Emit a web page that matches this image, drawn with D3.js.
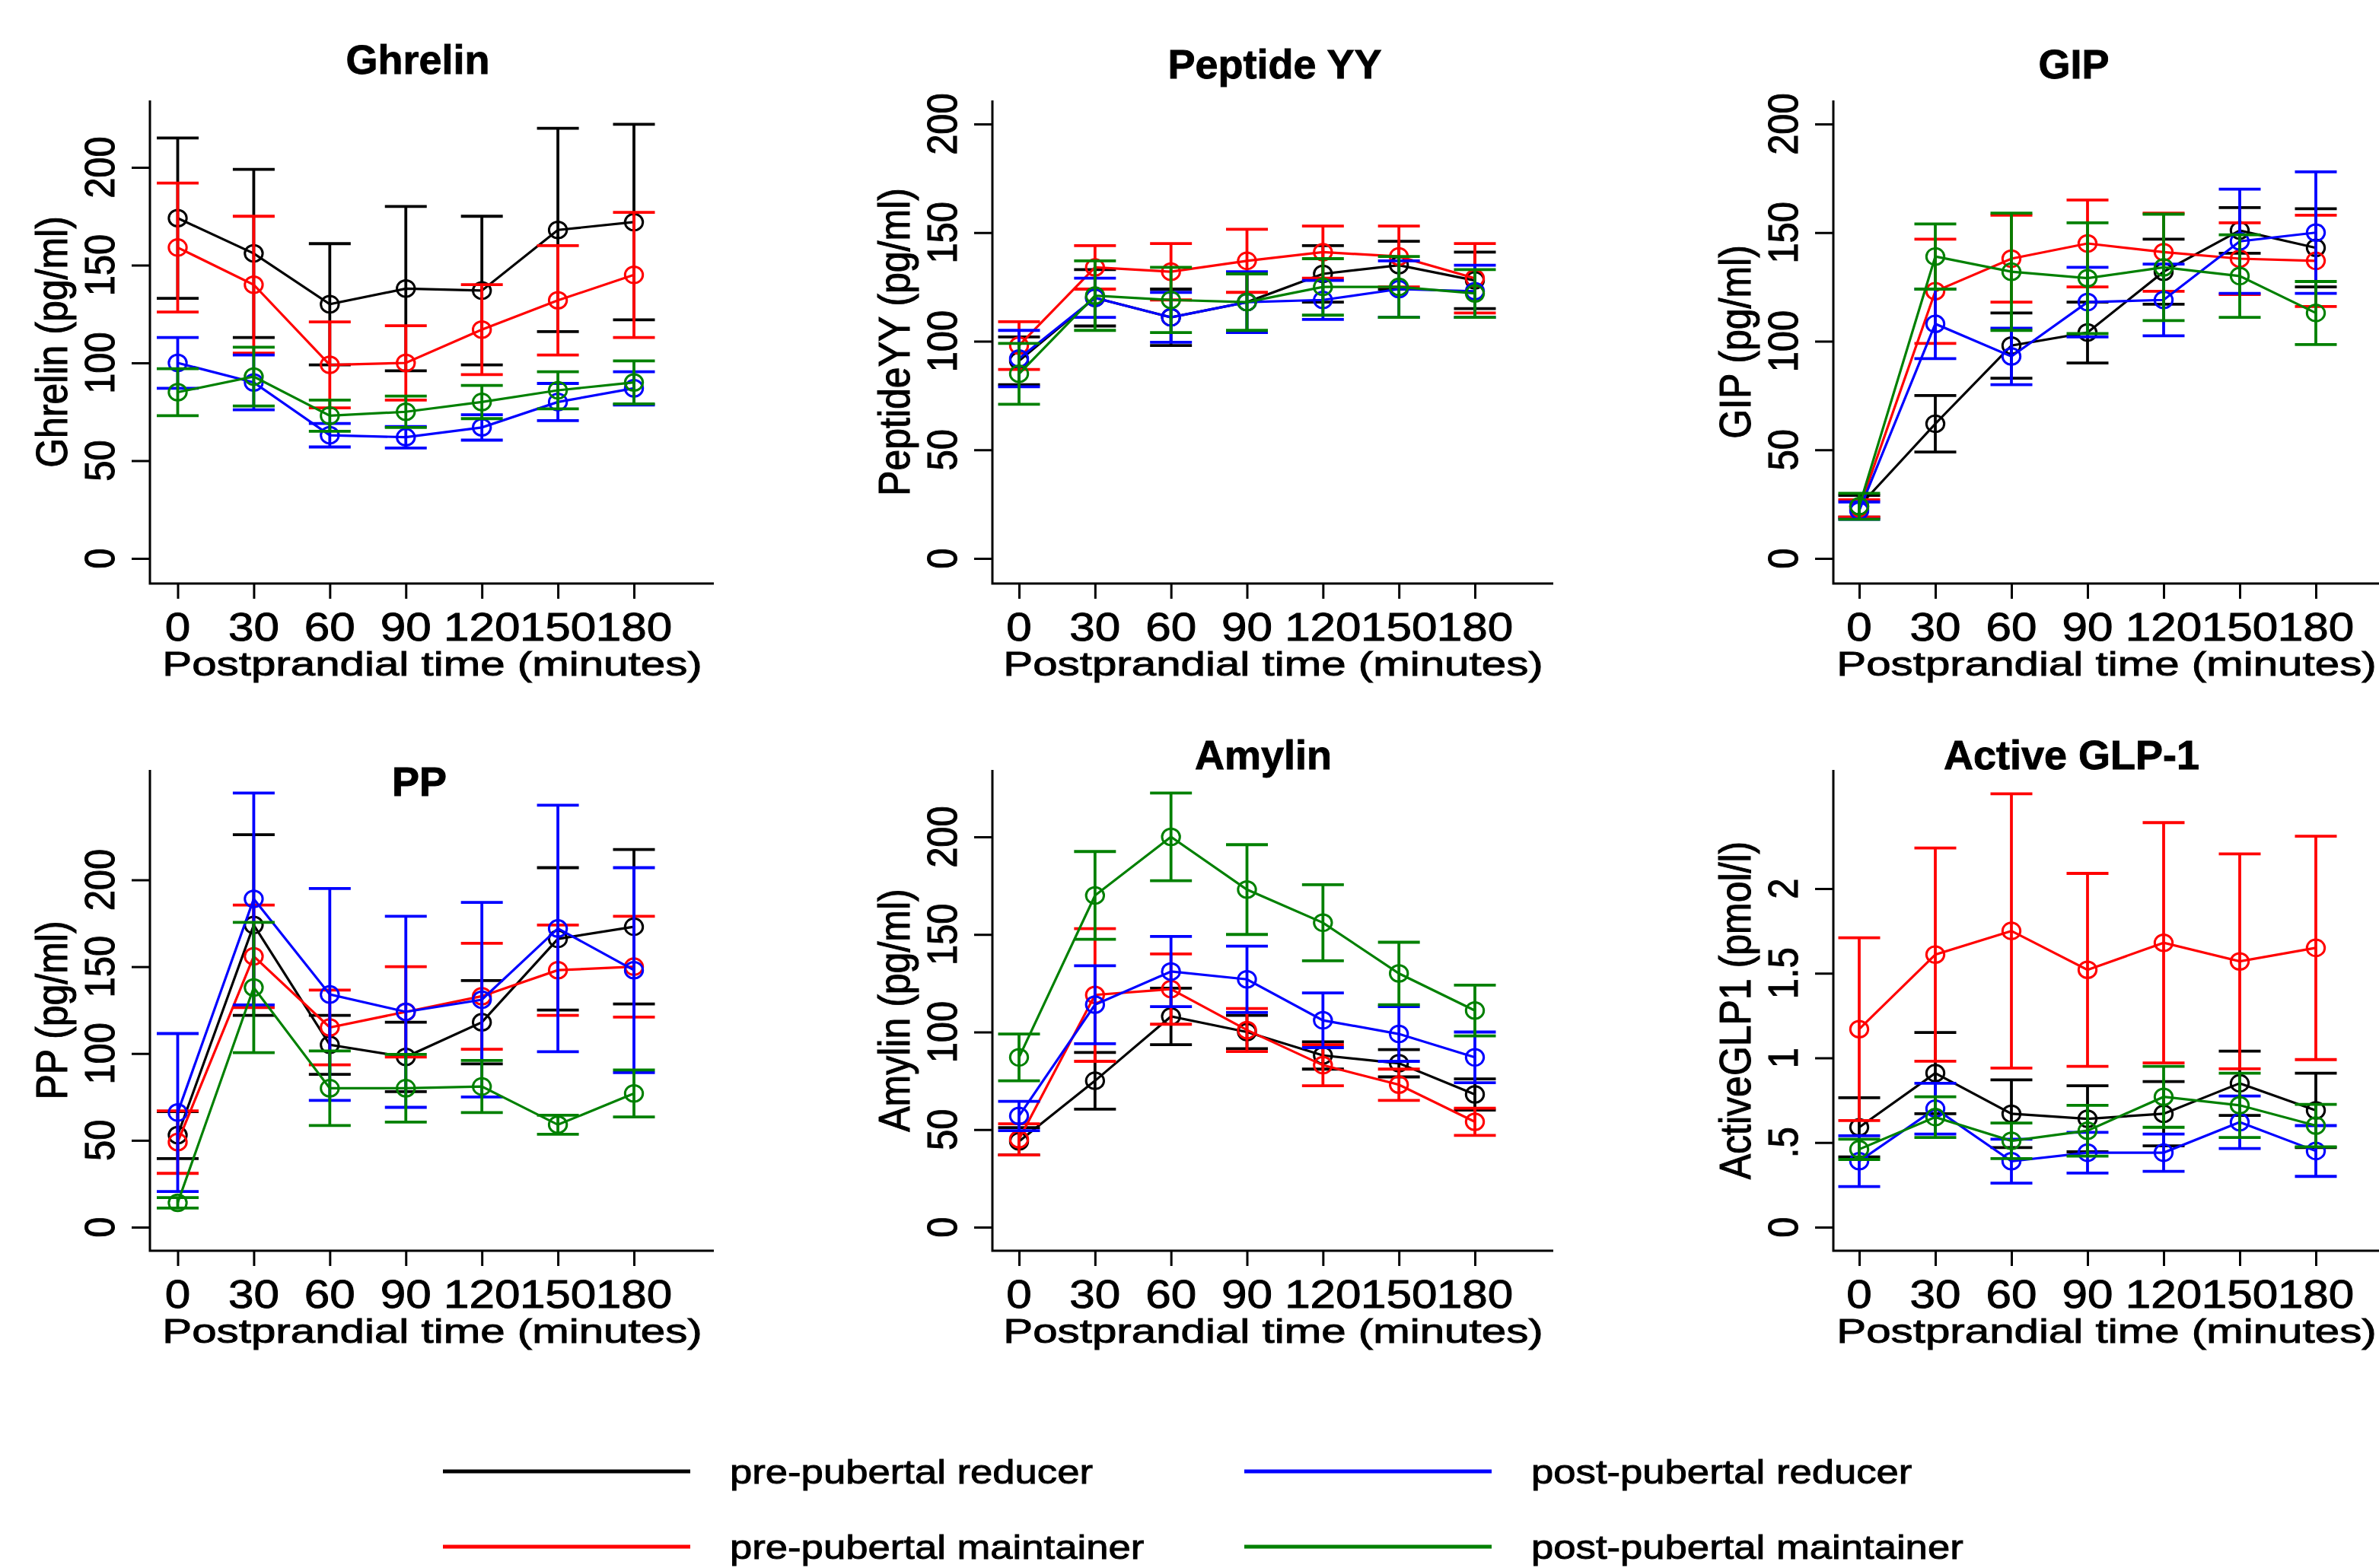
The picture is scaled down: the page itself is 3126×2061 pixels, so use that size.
<!DOCTYPE html>
<html>
<head>
<meta charset="utf-8">
<script src="https://cdn.jsdelivr.net/npm/d3@7"></script>
<style>
  html, body { margin: 0; padding: 0; background: #fff; }
  svg { display: block; }
  text { font-family: "Liberation Sans", Arial, sans-serif; fill: #000; stroke: #000; stroke-width: 0.9; }
</style>
</head>
<body>
<svg id="chart"></svg>
<script>
// sampling times (minutes after the meal)
const times = [0, 30, 60, 90, 120, 150, 180];

// groups, in the order they are drawn
const groups = ['pre-pubertal reducer', 'pre-pubertal maintainer', 'post-pubertal reducer', 'post-pubertal maintainer'];
const groupColors = ['#000000', '#ff0000', '#0000ff', '#008000'];

// Ghrelin (pg/ml) - mean and SE per group
const ghrelinMean = [
  [174, 156, 130, 138, 137, 168, 172],
  [159, 140, 99, 100, 117, 132, 145],
  [100, 90, 63, 62, 67, 80, 87],
  [85, 93, 73, 75, 80, 86, 90]
];
const ghrelinSE = [
  [41, 43, 31, 42, 38, 52, 50],
  [33, 35, 22, 19, 23, 28, 32],
  [13, 14, 6, 5.5, 6.5, 9.5, 8.5],
  [12, 15, 8, 8, 8.5, 9.5, 11]
];

// Peptide YY (pg/ml)
const pyyMean = [
  [91, 120, 111, 118, 131, 135, 128],
  [98, 134, 132, 137, 141, 139, 129],
  [92, 120, 111, 118, 119, 124, 123],
  [85, 121, 119, 118, 125, 125, 122]
];
const pyySE = [
  [11, 13, 13, 13.5, 13, 11, 13],
  [11, 10, 13, 14.5, 12, 14, 16],
  [13, 9, 11.5, 14, 9, 13, 12],
  [14, 16, 15, 13, 13, 14, 11]
];

// GIP (pg/ml)
const gipMean = [
  [24, 62, 98, 104, 132, 151, 143],
  [23, 123, 138, 145, 141, 138, 137],
  [22, 108, 93, 118, 119, 146, 150],
  [24, 139, 132, 129, 134, 130, 113]
];
const gipSE = [
  [5, 13, 15, 14, 15, 10.5, 18],
  [4, 24, 20, 20, 18, 16.5, 21],
  [4, 16, 13, 16, 16.5, 24, 28],
  [6, 15, 27, 25.5, 24.5, 19, 14.5]
];

// PP (pg/ml)
const ppMean = [
  [53, 174, 105, 98, 118, 166, 173],
  [49, 156, 115, 124, 133, 148, 150],
  [66, 189, 134, 124, 131, 172, 148],
  [14, 138, 80, 80, 81, 59, 77]
];
const ppSE = [
  [13.5, 52, 17, 20, 24, 41, 44.5],
  [18, 29.5, 21.5, 26, 30.5, 26, 29],
  [45.5, 61, 61, 55, 56, 71, 59],
  [3, 37.5, 21.5, 19.5, 15, 5.5, 13.5]
];

// Amylin (pg/ml)
const amylinMean = [
  [44, 75, 108, 100, 88, 84, 68],
  [45, 119, 122, 101, 83, 73, 54],
  [57, 114, 131, 127, 106, 99, 87],
  [87, 170, 200, 173, 156, 130, 111]
];
const amylinSE = [
  [7, 14.5, 14.5, 8.5, 7, 7, 8],
  [8, 34, 18, 11, 10.5, 8, 7],
  [7.5, 20, 18, 17, 14, 14, 13],
  [12, 22.5, 22.5, 23, 19.5, 16, 13]
];

// Active GLP-1 (pmol/l)
const glpMean = [
  [0.59, 0.91, 0.67, 0.64, 0.67, 0.85, 0.69],
  [1.17, 1.61, 1.75, 1.52, 1.68, 1.57, 1.65],
  [0.39, 0.70, 0.39, 0.44, 0.44, 0.62, 0.45],
  [0.46, 0.65, 0.51, 0.57, 0.77, 0.72, 0.60]
];
const glpSE = [
  [0.175, 0.24, 0.2, 0.195, 0.19, 0.19, 0.22],
  [0.54, 0.63, 0.81, 0.57, 0.71, 0.635, 0.66],
  [0.15, 0.15, 0.13, 0.12, 0.11, 0.155, 0.15],
  [0.06, 0.12, 0.105, 0.15, 0.18, 0.19, 0.125]
];

// axis ticks
const xTicks = [0, 30, 60, 90, 120, 150, 180];
const pgTicks = [0, 50, 100, 150, 200];
const pgTickLabels = ['0', '50', '100', '150', '200'];
const glpTicks = [0, 0.5, 1, 1.5, 2];
const glpTickLabels = ['0', '.5', '1', '1.5', '2'];

// panel content
const panels = [
  { title: 'Ghrelin', ylab: 'Ghrelin (pg/ml)', mean: ghrelinMean, se: ghrelinSE, ticks: pgTicks, labels: pgTickLabels },
  { title: 'Peptide YY', ylab: 'PeptideYY (pg/ml)', mean: pyyMean, se: pyySE, ticks: pgTicks, labels: pgTickLabels },
  { title: 'GIP', ylab: 'GIP (pg/ml)', mean: gipMean, se: gipSE, ticks: pgTicks, labels: pgTickLabels },
  { title: 'PP', ylab: 'PP (pg/ml)', mean: ppMean, se: ppSE, ticks: pgTicks, labels: pgTickLabels },
  { title: 'Amylin', ylab: 'Amylin (pg/ml)', mean: amylinMean, se: amylinSE, ticks: pgTicks, labels: pgTickLabels },
  { title: 'Active GLP-1', ylab: 'ActiveGLP1 (pmol/l)', mean: glpMean, se: glpSE, ticks: glpTicks, labels: glpTickLabels }
];

// pixel layout of each panel: box edges, pixel of first/last x tick and y tick,
// title centre (tx, ty) and x-title centre (xt)
const layout = [
  { left: 197, right: 938, top: 132, bottom: 767, x0: 233.5, x1: 833, y0: 734, y1: 220, tx: 549, ty: 78, xt: 568 },
  { left: 1304, right: 2041, top: 132, bottom: 767, x0: 1339, x1: 1938, y0: 734, y1: 163, tx: 1675, ty: 84, xt: 1673 },
  { left: 2409, right: 3160, top: 132, bottom: 767, x0: 2443, x1: 3043, y0: 734, y1: 163, tx: 2725, ty: 84, xt: 2768 },
  { left: 197, right: 938, top: 1012, bottom: 1644, x0: 233.5, x1: 833, y0: 1613, y1: 1156.5, tx: 551, ty: 1027, xt: 568 },
  { left: 1304, right: 2041, top: 1012, bottom: 1644, x0: 1339, x1: 1938, y0: 1613, y1: 1100, tx: 1660, ty: 992, xt: 1673 },
  { left: 2409, right: 3160, top: 1012, bottom: 1644, x0: 2443, x1: 3043, y0: 1613, y1: 1168, tx: 2722, ty: 992, xt: 2768 }
];

const width = 3126;
const height = 2061;

const svg = d3.select('#chart')
    .attr('width', width)
    .attr('height', height);

svg.append('rect').attr('width', width).attr('height', height).attr('fill', '#fff');

// text helper: the source figure has widened glyphs, so each text gets its own x scale
function addText(g, x, y, str, size, sx, opt = {}) {
    return g.append('text')
        .attr('transform', `translate(${x},${y}) scale(${sx},1)` + (opt.rotate ? ` rotate(${opt.rotate})` : ''))
        .attr('text-anchor', opt.anchor || 'middle')
        .attr('dominant-baseline', 'central')
        .attr('font-size', size)
        .attr('font-weight', opt.bold ? 'bold' : 'normal')
        .text(str);
}

panels.forEach((p, i) => {
    const L = layout[i];
    const g = svg.append('g');

    const x = d3.scaleLinear().domain([0, 180]).range([L.x0, L.x1]);
    const yMax = p.ticks[p.ticks.length - 1];
    const y = d3.scaleLinear().domain([0, yMax]).range([L.y0, L.y1]);

    // L-shaped box
    g.append('path')
        .attr('d', `M${L.left},${L.top}V${L.bottom}H${L.right}`)
        .attr('fill', 'none')
        .attr('stroke', '#000')
        .attr('stroke-width', 3);

    // x axis ticks
    const xAxis = d3.axisBottom(x).tickValues(xTicks).tickSize(20).tickFormat('');
    g.append('g')
        .attr('transform', `translate(0,${L.bottom})`)
        .call(xAxis)
        .call(a => a.select('.domain').remove())
        .call(a => a.selectAll('line').attr('stroke-width', 3));
    xTicks.forEach(t => addText(g, x(t), L.bottom + 58, String(t), 51, 1.18));

    // y axis ticks
    const yAxis = d3.axisLeft(y).tickValues(p.ticks).tickSize(24).tickFormat('');
    g.append('g')
        .attr('transform', `translate(${L.left},0)`)
        .call(yAxis)
        .call(a => a.select('.domain').remove())
        .call(a => a.selectAll('line').attr('stroke-width', 3));
    p.ticks.forEach((t, k) => addText(g, L.left - 67, y(t), p.labels[k], 49, 1.15, { rotate: -90 }));

    // axis titles and panel title
    addText(g, L.xt, L.bottom + 106, 'Postprandial time (minutes)', 44.5, 1.31);
    addText(g, L.left - 129, (L.top + L.bottom) / 2, p.ylab, 50, 1.15, { rotate: -90 });
    addText(g, L.tx, L.ty, p.title, 54, 1.0, { bold: true });

    const line = d3.line()
        .x((d, k) => x(times[k]))
        .y(d => y(d));

    groups.forEach((name, gi) => {
        const color = groupColors[gi];
        const m = p.mean[gi];
        const s = p.se[gi];
        const sg = g.append('g').attr('class', 'series');

        sg.append('path')
            .attr('d', line(m))
            .attr('fill', 'none')
            .attr('stroke', color)
            .attr('stroke-width', 3.2);

        const bars = sg.selectAll('g.err')
            .data(times.map((t, k) => ({ t, lo: m[k] - s[k], hi: m[k] + s[k] })))
            .enter().append('g')
            .attr('class', 'err')
            .attr('stroke', color)
            .attr('stroke-width', 3.8);
        bars.append('line')
            .attr('x1', d => x(d.t)).attr('x2', d => x(d.t))
            .attr('y1', d => y(d.lo)).attr('y2', d => y(d.hi));
        bars.append('line')
            .attr('x1', d => x(d.t) - 27.5).attr('x2', d => x(d.t) + 27.5)
            .attr('y1', d => y(d.hi)).attr('y2', d => y(d.hi));
        bars.append('line')
            .attr('x1', d => x(d.t) - 27.5).attr('x2', d => x(d.t) + 27.5)
            .attr('y1', d => y(d.lo)).attr('y2', d => y(d.lo));

        sg.selectAll('ellipse')
            .data(m)
            .enter().append('ellipse')
            .attr('cx', (d, k) => x(times[k]))
            .attr('cy', d => y(d))
            .attr('rx', 11.7)
            .attr('ry', 10.8)
            .attr('fill', 'none')
            .attr('stroke', color)
            .attr('stroke-width', 3);
    });
});

// legend, two columns
const legendPos = [
  { x: 582, y: 1934 },
  { x: 582, y: 2033 },
  { x: 1635, y: 1934 },
  { x: 1635, y: 2033 }
];
const legend = svg.append('g');
groups.forEach((name, gi) => {
    const pos = legendPos[gi];
    legend.append('line')
        .attr('x1', pos.x).attr('x2', pos.x + 325)
        .attr('y1', pos.y).attr('y2', pos.y)
        .attr('stroke', groupColors[gi])
        .attr('stroke-width', 5);
    addText(legend, pos.x + 377, pos.y, name, 45, 1.17, { anchor: 'start' });
});
</script>
</body>
</html>
